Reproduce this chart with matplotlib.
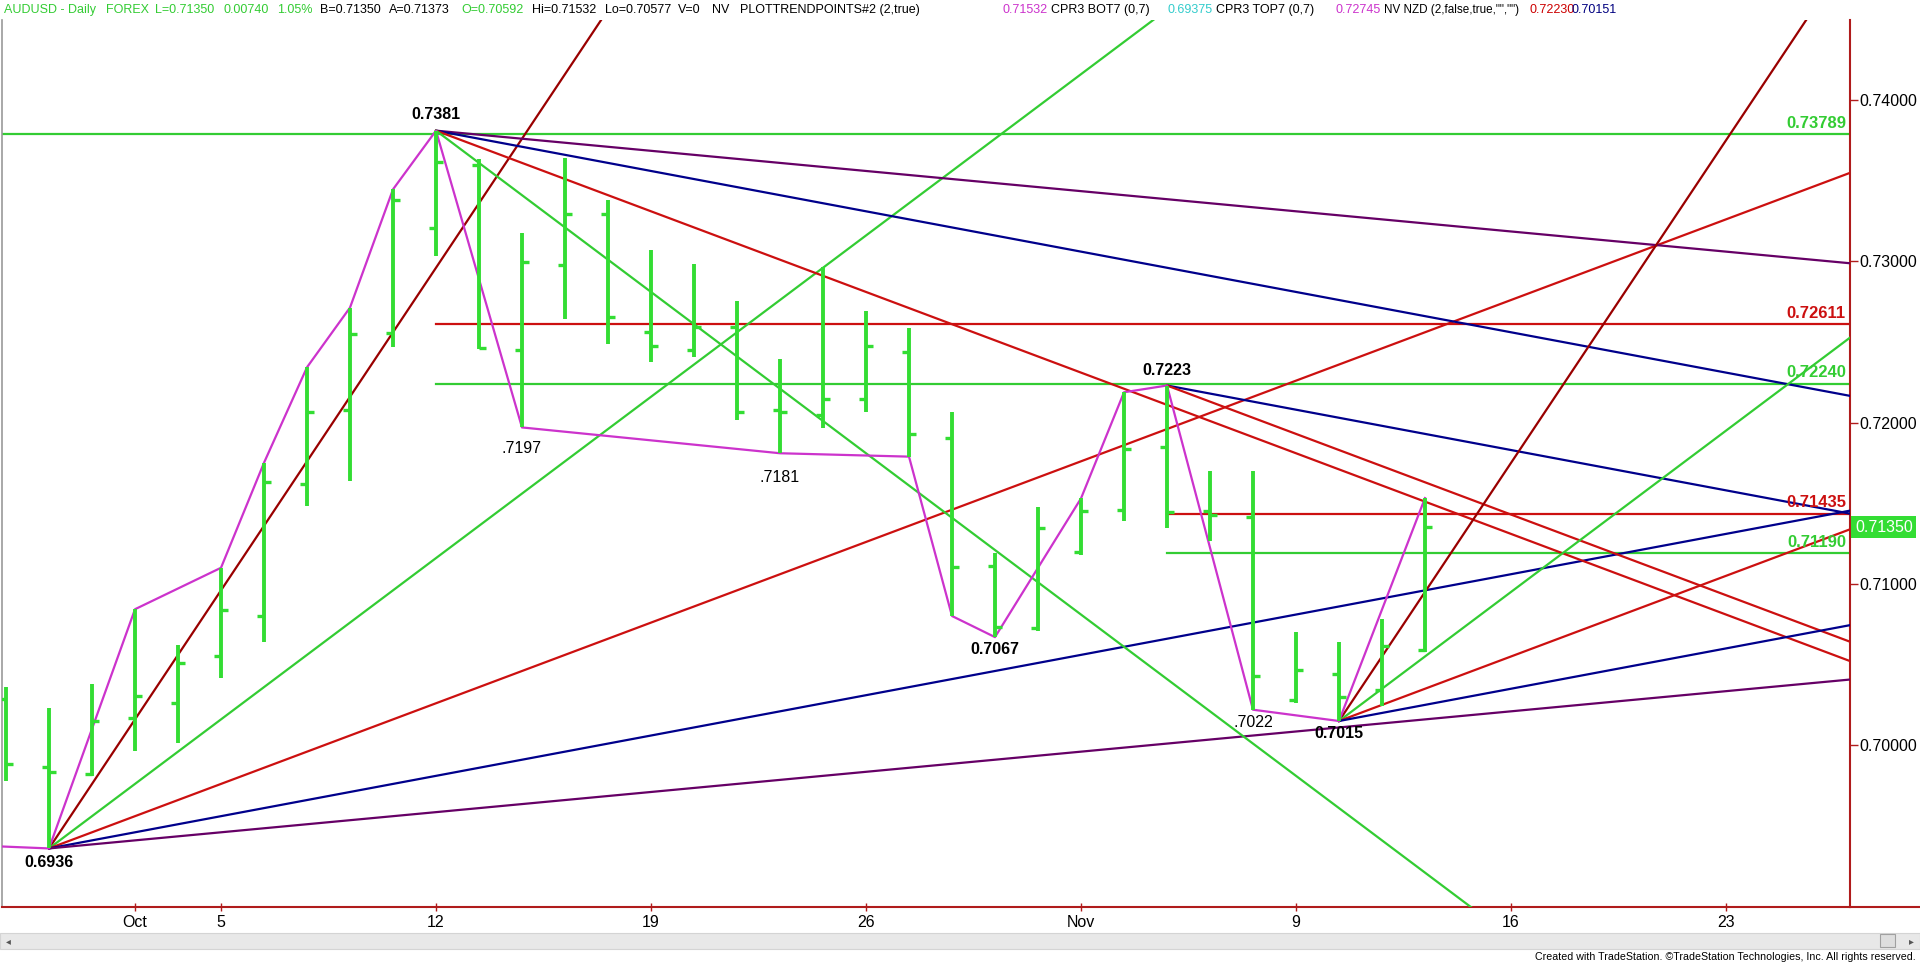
import numpy as np
import pandas as pd
import matplotlib.pyplot as plt
from matplotlib.patches import Rectangle
from matplotlib.lines import Line2D

plt.rcParams['font.family'] = ['Liberation Sans', 'DejaVu Sans']

W, H = 1920, 964

# AUDUSD daily bars, Sep 28 - Nov 12 2015
dates = pd.bdate_range('2015-09-28', '2015-11-12')
opens = [0.70286, 0.69867, 0.69824, 0.70171, 0.70259, 0.70550, 0.70800, 0.71617, 0.72078, 0.72558,
         0.73204, 0.73597, 0.72450, 0.72977, 0.73293, 0.72564, 0.72450, 0.72591, 0.72080, 0.72047,
         0.72146, 0.72440, 0.71902, 0.71111, 0.70725, 0.71200, 0.71458, 0.71846, 0.71452, 0.71417,
         0.70280, 0.70441, 0.70342, 0.70592]
highs = [0.70359, 0.70231, 0.70379, 0.70843, 0.70621, 0.71100, 0.71751, 0.72343, 0.72713, 0.73446,
         0.73810, 0.73632, 0.73173, 0.73638, 0.73380, 0.73070, 0.72981, 0.72756, 0.72392, 0.72967,
         0.72694, 0.72585, 0.72068, 0.71190, 0.71479, 0.71530, 0.72188, 0.72230, 0.71697, 0.71697,
         0.70700, 0.70642, 0.70781, 0.71532]
lows = [0.69781, 0.69360, 0.69809, 0.69967, 0.70015, 0.70416, 0.70642, 0.71484, 0.71638, 0.72467,
        0.73035, 0.72456, 0.71970, 0.72645, 0.72485, 0.72374, 0.72405, 0.72016, 0.71810, 0.71965,
        0.72064, 0.71789, 0.70801, 0.70670, 0.70710, 0.71179, 0.71389, 0.71344, 0.71263, 0.70220,
        0.70260, 0.70150, 0.70240, 0.70577]
closes = [0.69881, 0.69833, 0.70151, 0.70305, 0.70507, 0.70840, 0.71632, 0.72067, 0.72548, 0.73380,
          0.73618, 0.72460, 0.72994, 0.73293, 0.72657, 0.72475, 0.72595, 0.72068, 0.72065, 0.72146,
          0.72475, 0.71927, 0.71103, 0.70730, 0.71344, 0.71452, 0.71834, 0.71448, 0.71427, 0.70429,
          0.70466, 0.70297, 0.70615, 0.71350]

# swing line (pivot points)
swing_dates = ['2015-09-29', '2015-10-01', '2015-10-05', '2015-10-06', '2015-10-07', '2015-10-08',
               '2015-10-09', '2015-10-12', '2015-10-14', '2015-10-22', '2015-10-27', '2015-10-28',
               '2015-10-29', '2015-11-02', '2015-11-03', '2015-11-04', '2015-11-06', '2015-11-10',
               '2015-11-12']
swing_prices = [0.6936, 0.70843, 0.71100, 0.71751, 0.72343, 0.72713, 0.73446, 0.7381, 0.7197, 0.7181,
                0.71789, 0.70801, 0.7067, 0.71530, 0.72188, 0.7223, 0.7022, 0.7015, 0.71532]
swing_start_price = 0.69372

# pivot labels
piv_text = ['0.6936', '0.7381', '.7197', '.7181', '0.7067', '0.7223', '.7022', '0.7015']
piv_dates = ['2015-09-29', '2015-10-12', '2015-10-14', '2015-10-22', '2015-10-29', '2015-11-04',
             '2015-11-06', '2015-11-10']
piv_prices = [0.6936, 0.7381, 0.7197, 0.7181, 0.7067, 0.7223, 0.7022, 0.7015]

# gann fans: origin, price, slopes (price per bar)
fan_dates = ['2015-09-29', '2015-10-12', '2015-11-04', '2015-11-10']
fan_prices = [0.6936, 0.7381, 0.7223, 0.7015]
fan_slopes = [[0.004, 0.002, 0.001, 0.0005, 0.00025],
              [-0.00025, -0.0005, -0.001, -0.002],
              [-0.0005, -0.001],
              [0.004, 0.002, 0.001, 0.0005]]

# horizontal levels
levels = [0.73789, 0.72611, 0.72240, 0.71435, 0.71190]
level_text = ['0.73789', '0.72611', '0.72240', '0.71435', '0.71190']
level_start = [None, '2015-10-12', '2015-10-12', '2015-11-04', '2015-11-04']

tick_dates = ['2015-10-01', '2015-10-05', '2015-10-12', '2015-10-19', '2015-10-26',
              '2015-11-02', '2015-11-09', '2015-11-16', '2015-11-23']
tick_labels = ['Oct', '5', '12', '19', '26', 'Nov', '9', '16', '23']
price_ticks = [0.70, 0.71, 0.72, 0.73, 0.74]
last_price = 0.71350

cal = pd.bdate_range('2015-09-28', '2015-12-31')


def xi(d):
    return cal.get_loc(pd.Timestamp(d))


GREEN = '#33cc33'
BARG = '#33dd33'
RED = '#cc1010'
DRED = '#990000'
BLUE = '#00008b'
PURP = '#660066'
MAG = '#cc33cc'
SPINE = '#b01c1c'
fan_col = {0.004: DRED, 0.002: GREEN, 0.001: RED, 0.0005: BLUE, 0.00025: PURP}

fig = plt.figure(figsize=(W / 100, H / 100), dpi=100)
ax = fig.add_axes([2 / W, 57 / H, 1848 / W, 887 / H])
x0, x1 = -0.093, 42.884
ax.set_xlim(x0, x1)
ax.set_ylim(0.689969, 0.744960)

# horizontal levels
for lv, st, txt, c in zip(levels, level_start, level_text, [GREEN, RED, GREEN, RED, GREEN]):
    xs = x0 if st is None else xi(st)
    ax.plot([xs, x1], [lv, lv], color=c, lw=1.6, zorder=2)
    ax.annotate(txt, xy=(0.9978, lv), xycoords=ax.get_yaxis_transform(),
                xytext=(0, 11), textcoords='offset pixels', ha='right', va='center',
                color=c, fontsize=12, fontweight='bold', zorder=6)

# gann fans
for d, p, slopes in zip(fan_dates, fan_prices, fan_slopes):
    xs = xi(d)
    for s in slopes:
        ax.plot([xs, x1], [p, p + s * (x1 - xs)], color=fan_col[round(abs(s), 5)], lw=1.6, zorder=3)

# swing line
sx = [x0] + [xi(d) for d in swing_dates]
sy = [swing_start_price] + swing_prices
ax.plot(sx, sy, color=MAG, lw=1.6, zorder=4)

# OHLC bars
bx = np.arange(len(dates))
tk = 0.17
ax.vlines(bx, lows, highs, color=BARG, lw=2.8, zorder=5, capstyle='butt')
ax.hlines(opens, bx - tk, bx, color=BARG, lw=2.4, zorder=5, capstyle='butt')
ax.hlines(closes, bx, bx + tk, color=BARG, lw=2.4, zorder=5, capstyle='butt')

# pivot labels
offs = [-14, 16, -21, -24, -12, 15, -13, -12]
for t, d, p, o in zip(piv_text, piv_dates, piv_prices, offs):
    ax.annotate(t, xy=(xi(d), p), xytext=(0, o), textcoords='offset pixels',
                ha='center', va='center', fontsize=11.5,
                fontweight='bold' if t.startswith('0.') else 'normal', zorder=7)

# axes styling
ax.spines['top'].set_visible(False)
ax.spines['left'].set_color('#999999')
ax.spines['left'].set_linewidth(1.2)
ax.spines['right'].set_color(SPINE)
ax.spines['bottom'].set_color(SPINE)
ax.spines['right'].set_linewidth(1.5)
ax.spines['bottom'].set_linewidth(1.5)

ax.yaxis.tick_right()
ax.set_yticks(price_ticks)
ax.set_yticklabels([f'{v:.5f}' for v in price_ticks])
ax.tick_params(axis='y', length=6, width=1, color=SPINE, pad=1, labelsize=11.5)
ax.set_xticks([xi(d) for d in tick_dates])
ax.set_xticklabels(tick_labels)
ax.tick_params(axis='x', direction='inout', length=6, width=1, color=SPINE, pad=3, labelsize=11.5)

# last price tag
ax.annotate(f'{last_price:.5f}', xy=(1.0, last_price), xycoords=ax.get_yaxis_transform(),
            xytext=(5, 0), textcoords='offset pixels', ha='left', va='center', color='white',
            fontsize=11.5, annotation_clip=False,
            bbox=dict(boxstyle='square,pad=0.22', fc=BARG, ec='none'))

# bottom line continues to the right edge
fig.add_artist(Line2D([1850 / W, 1], [57 / H, 57 / H], color=SPINE, lw=1.5))

# header
K = 'black'
header = [('AUDUSD - Daily', GREEN, 4, 9), ('FOREX', GREEN, 106, 9), ('L=0.71350', GREEN, 155, 9),
          ('0.00740', GREEN, 224, 9), ('1.05%', GREEN, 277, 9), ('B=0.71350', K, 320, 9),
          ('A=0.71373', K, 389, 9), ('O=0.70592', GREEN, 461, 9), ('Hi=0.71532', K, 532, 9),
          ('Lo=0.70577', K, 605, 9), ('V=0', K, 678, 9), ('NV', K, 712, 9),
          ('PLOTTRENDPOINTS#2 (2,true)', K, 740, 9),
          ('0.71532', MAG, 1003, 9), ('CPR3 BOT7 (0,7)', K, 1051, 9), ('0.69375', '#33cccc', 1168, 9),
          ('CPR3 TOP7 (0,7)', K, 1216, 9), ('0.72745', MAG, 1336, 9),
          ('NV NZD (2,false,true,"","")', K, 1384, 8.4), ('0.72230', '#cc0000', 1529, 9),
          ('0.70151', '#000080', 1571, 9)]
for t, c, xp, fs in header:
    fig.text(xp / W, 1 - 10 / H, t, color=c, fontsize=fs, ha='left', va='center')

# scrollbar
fig.patches.append(Rectangle((0, 1 - 949 / H), 1, 16 / H, transform=fig.transFigure,
                             fc='#e8e8e8', ec='#d4d4d4', lw=0.8))
fig.patches.append(Rectangle((1880 / W, 1 - 947 / H), 15 / W, 13 / H, transform=fig.transFigure,
                             fc='#dedede', ec='#a0a0a0', lw=0.8))
fig.text(6 / W, 1 - 941 / H, '◂', fontsize=7, color='#555555', ha='left', va='center')
fig.text(1914 / W, 1 - 941 / H, '▸', fontsize=7, color='#555555', ha='right', va='center')

fig.text(1916 / W, 1 - 957 / H,
         'Created with TradeStation. \u00a9TradeStation Technologies, Inc. All rights reserved.',
         fontsize=7.7, ha='right', va='center')

fig.savefig('out.png', dpi=100)
